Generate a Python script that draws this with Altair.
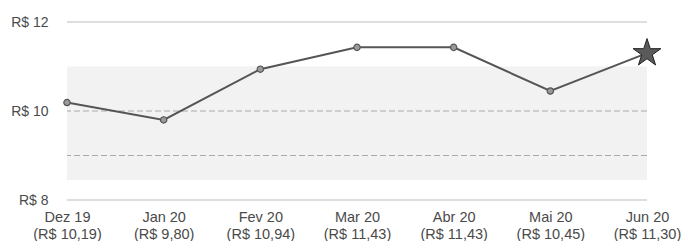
import altair as alt
import pandas as pd

months = ["Dez 19", "Jan 20", "Fev 20", "Mar 20", "Abr 20", "Mai 20", "Jun 20"]
values = [10.19, 9.80, 10.94, 11.43, 11.43, 10.45, 11.30]
y_ticks = [8, 10, 12]
grid_solid = [8, 12]
grid_dashed = [9, 10]
band_top = [11.0]
band_bottom = [8.45]

labels = [f"{m}|(R$ {v:.2f})".replace(".", ",") for m, v in zip(months, values)]
df = pd.DataFrame({"label": labels, "value": values})
df["last"] = [False] * (len(values) - 1) + [True]

xenc = alt.X("label:N", sort=labels, scale=alt.Scale(type="point", padding=0),
             axis=alt.Axis(title=None, domain=False, ticks=False, grid=False,
                           labelExpr="split(datum.label, '|')", labelAngle=0,
                           labelFont="Liberation Sans", labelFontSize=14.5,
                           labelColor="#4a4a4a", labelPadding=10, labelLineHeight=17))
yscale = alt.Scale(domain=[8, 12], nice=False, zero=False)
yaxis = alt.Axis(title=None, values=y_ticks, domain=False, ticks=False, grid=False,
                 labelExpr="'R$ ' + datum.value", labelFont="Liberation Sans",
                 labelFontSize=14, labelColor="#4a4a4a", labelPadding=19)

band = alt.Chart(pd.DataFrame({"top": band_top, "bottom": band_bottom})).mark_rect(
    color="#f2f2f2").encode(y=alt.Y("top:Q", scale=yscale, axis=yaxis), y2="bottom:Q")

solid = alt.Chart(pd.DataFrame({"g": grid_solid})).mark_rule(
    color="#bdbdbd", strokeWidth=1.2).encode(y=alt.Y("g:Q", scale=yscale))
dashed = alt.Chart(pd.DataFrame({"g": grid_dashed})).mark_rule(
    color="#aaaaaa", strokeWidth=1, strokeDash=[6, 3]).encode(y=alt.Y("g:Q", scale=yscale))

base = alt.Chart(df).encode(x=xenc, y=alt.Y("value:Q", scale=yscale))
line = base.mark_line(color="#555555", strokeWidth=2)
pts = base.transform_filter("!datum.last").mark_point(
    shape="circle", size=40, filled=True, fill="#9a9a9a", stroke="#555555",
    strokeWidth=1.2, opacity=1)
star_path = ("M0,-1L0.2245,-0.309L0.951,-0.309L0.363,0.118L0.588,0.809L0,0.382"
             "L-0.588,0.809L-0.363,0.118L-0.951,-0.309L-0.2245,-0.309Z")
star = base.transform_filter("datum.last").mark_point(
    shape=star_path, size=850, filled=True, fill="#5a5a5a", stroke="#222222",
    strokeWidth=1, opacity=1)

chart = alt.layer(band, solid, dashed, line, pts, star).properties(
    width=580, height=178,
    autosize=alt.AutoSizeParams(type="none"),
    padding={"left": 59, "top": 14, "right": 34, "bottom": 41},
).configure(background="white", view=alt.ViewConfig(stroke=None))

chart.save("out.html", embed_options={"renderer": "svg", "actions": False})
